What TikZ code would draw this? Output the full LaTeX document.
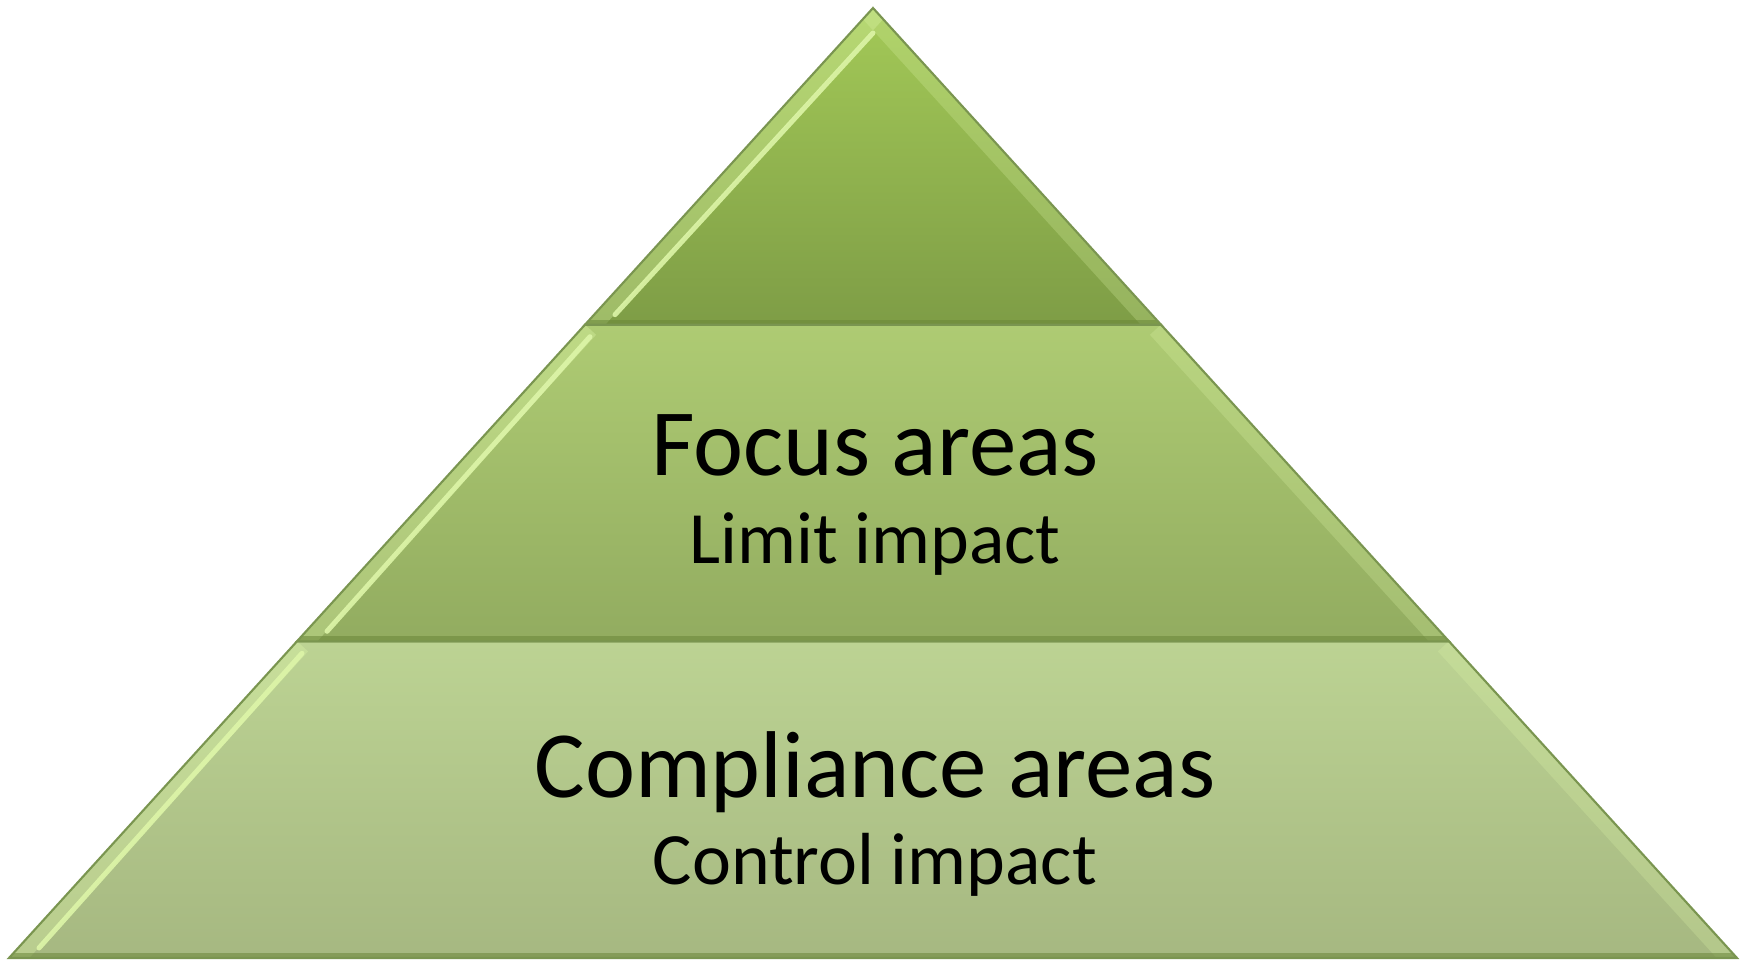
\documentclass[tikz,border=0pt]{standalone}
\usepackage{fontspec}
\setmainfont{Carlito}
\usetikzlibrary{positioning}

\definecolor{topA}{HTML}{A3C957}
\definecolor{topB}{HTML}{7E9D46}
\definecolor{midA}{HTML}{AECB73}
\definecolor{midB}{HTML}{92AC60}
\definecolor{lowA}{HTML}{BCD393}
\definecolor{lowB}{HTML}{A6B881}
\definecolor{rim}{HTML}{7A9550}
\definecolor{glow}{HTML}{DDF5A8}
\definecolor{shade}{HTML}{6A8639}

\tikzset{
  tier/.style={draw=rim, line width=0.6pt},
  leftband/.style={line width=0.30cm, color=glow, opacity=0.35},
  rightband/.style={line width=0.30cm, color=glow, opacity=0.25},
  glint/.style={line width=0.05cm, color=glow, opacity=0.9, line cap=round},
  baseband/.style={line width=0.10cm, color=shade, opacity=0.55},
  title/.style={font=\fontsize{27}{30}\selectfont, anchor=base},
  sub/.style={font=\fontsize{21}{24}\selectfont, anchor=base}
}

\begin{document}
\begin{tikzpicture}
  \useasboundingbox (0,0) rectangle (17.45,9.6);
  % corners of the pyramid
  \coordinate (bl) at (0.09,0.02);
  \coordinate (br) at (17.37,0.02);
  \coordinate (ml) at (2.97,3.187);
  \coordinate (mr) at (14.49,3.187);
  \coordinate (tl) at (5.85,6.353);
  \coordinate (tr) at (11.61,6.353);
  \coordinate (apex) at (8.73,9.52);

  % lower tier
  \fill[top color=lowA, bottom color=lowB] (bl)--(br)--(mr)--(ml)--cycle;
  \begin{scope}
    \clip (bl)--(br)--(mr)--(ml)--cycle;
    \draw[leftband] (bl)--(ml);
    \draw[rightband] (br)--(mr);
    \draw[glint] ([xshift=0.3cm,yshift=0.1cm]bl)--([xshift=0.05cm,yshift=-0.12cm]ml);
    \draw[baseband] (bl)--(br);
  \end{scope}
  \draw[tier] (bl)--(br)--(mr)--(ml)--cycle;

  % middle tier
  \fill[top color=midA, bottom color=midB] (ml)--(mr)--(tr)--(tl)--cycle;
  \begin{scope}
    \clip (ml)--(mr)--(tr)--(tl)--cycle;
    \draw[leftband] (ml)--(tl);
    \draw[rightband] (mr)--(tr);
    \draw[glint] ([xshift=0.3cm,yshift=0.1cm]ml)--([xshift=0.05cm,yshift=-0.12cm]tl);
    \draw[baseband] (ml)--(mr);
  \end{scope}
  \draw[tier] (ml)--(mr)--(tr)--(tl)--cycle;

  % top tier
  \fill[top color=topA, bottom color=topB] (tl)--(tr)--(apex)--cycle;
  \begin{scope}
    \clip (tl)--(tr)--(apex)--cycle;
    \draw[leftband] (tl)--(apex);
    \draw[rightband] (tr)--(apex);
    \draw[glint] ([xshift=0.3cm,yshift=0.1cm]tl)--([yshift=-0.25cm]apex);
    \draw[baseband] (tl)--(tr);
  \end{scope}
  \draw[tier] (tl)--(tr)--(apex)--cycle;

  % labels
  \node[title] (focus) at (8.75,4.85) {Focus areas};
  \node[sub] (limit) at (8.75,3.97) {Limit impact};
  \node[title] (compl) at (8.75,1.63) {Compliance areas};
  \node[sub] (control) at (8.75,0.76) {Control impact};
\end{tikzpicture}
\end{document}
